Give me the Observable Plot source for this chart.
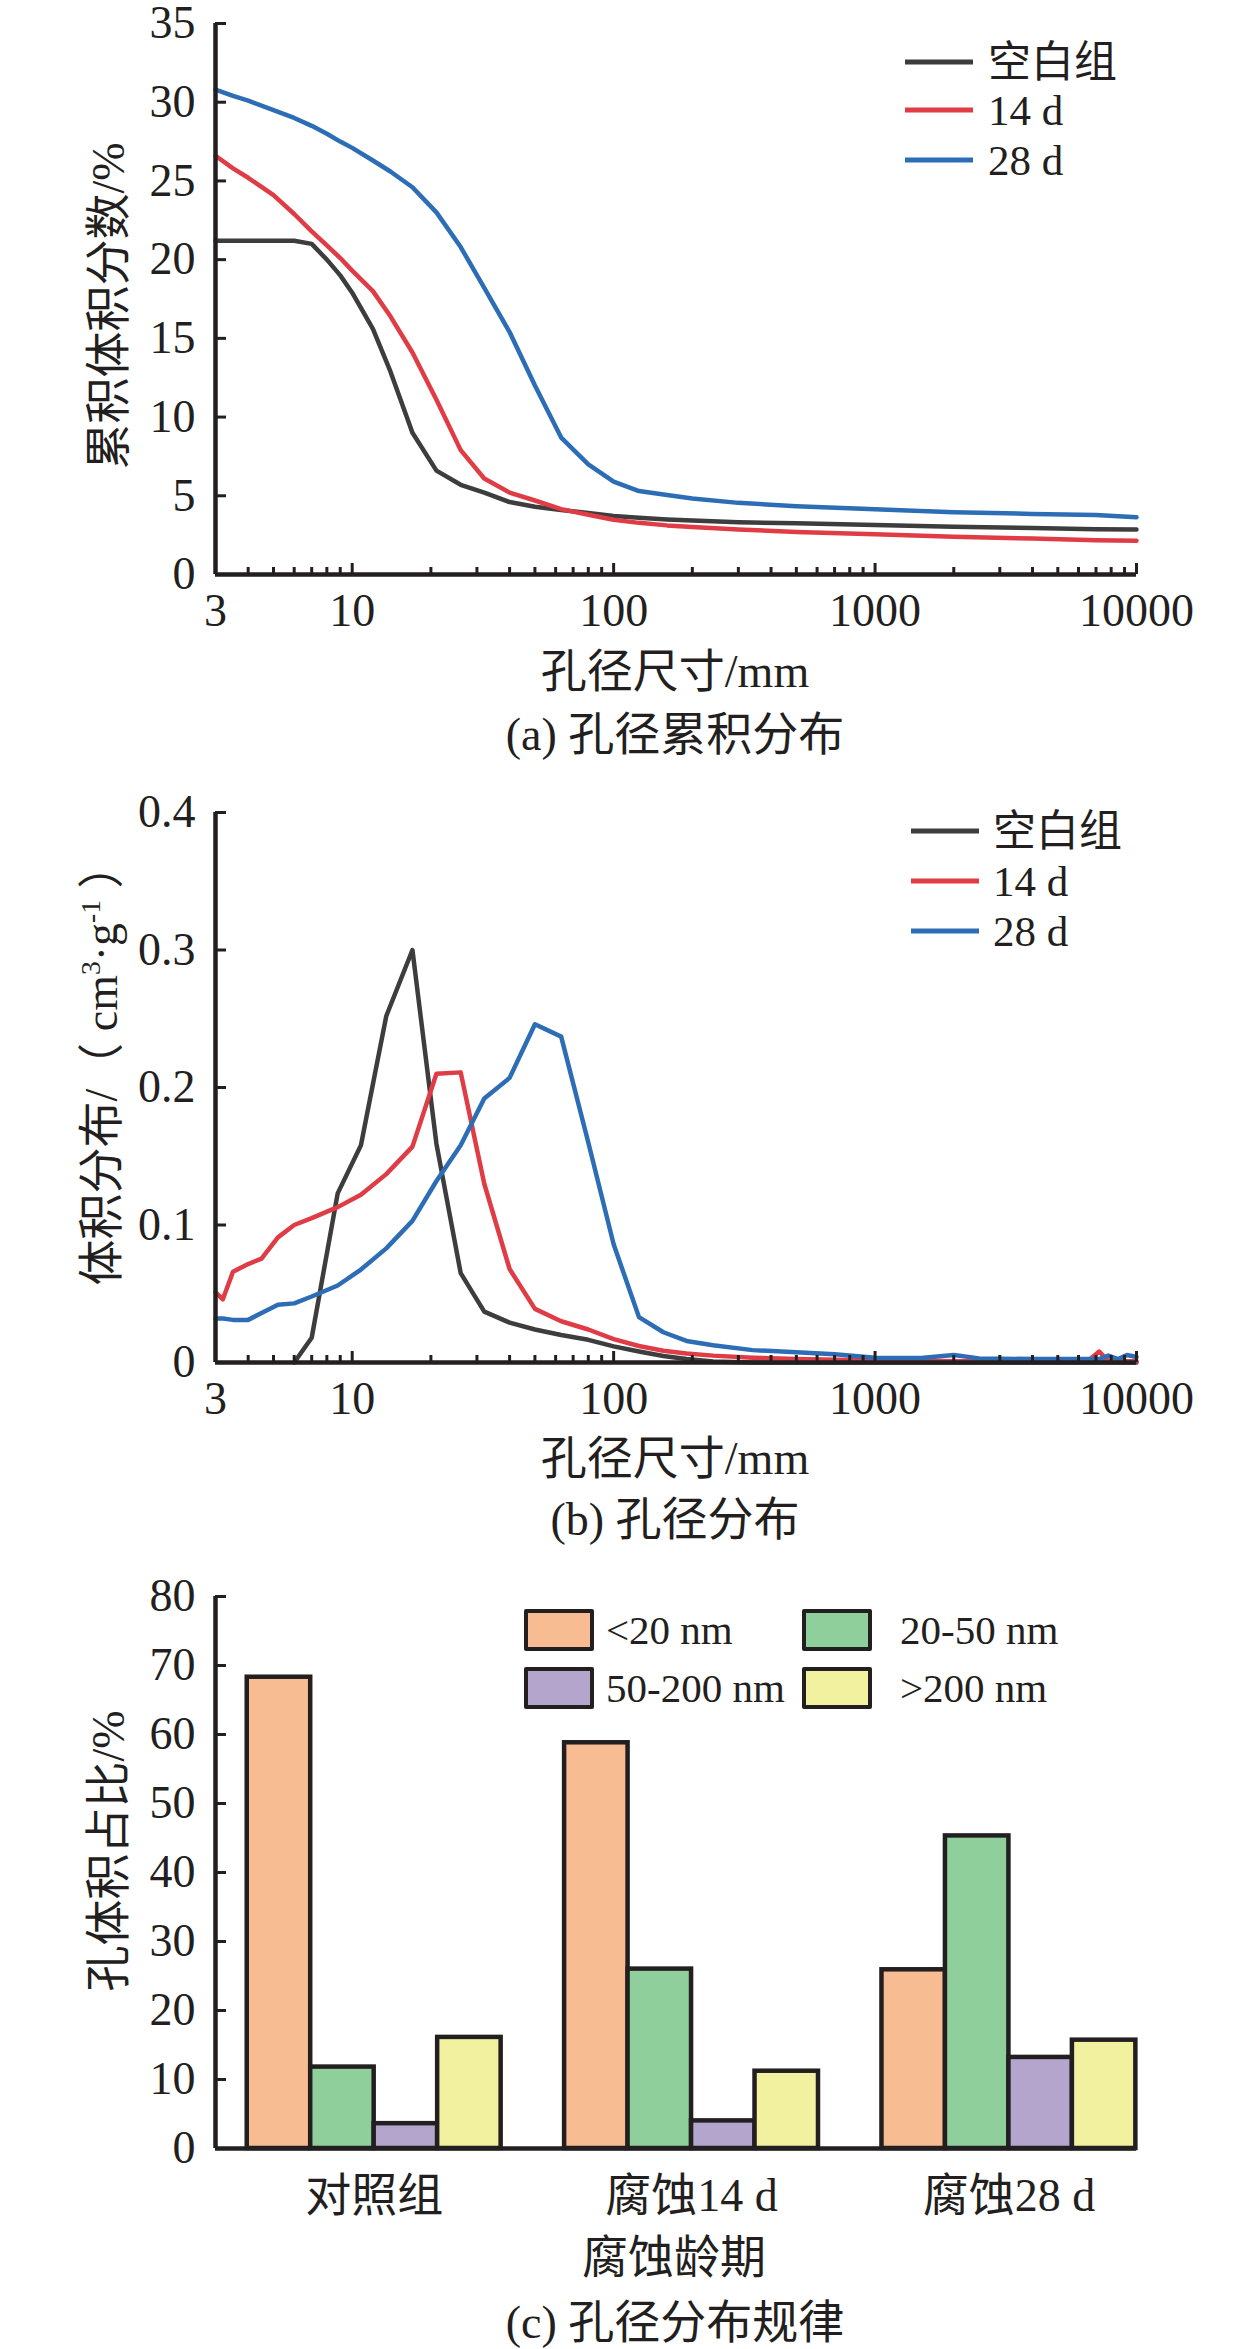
<!DOCTYPE html>
<html><head><meta charset="utf-8">
<script src="https://cdn.jsdelivr.net/npm/d3@7"></script>
<script src="https://cdn.jsdelivr.net/npm/@observablehq/plot@0.6"></script>
<style>
body{margin:0;background:#fff;}
#root{position:relative;width:1260px;height:2349px;font-family:"Liberation Serif","Noto Sans CJK SC",serif;color:#231f20;overflow:hidden;}
#root svg{position:absolute;left:0;}
.t{position:absolute;transform:translate(-50%,-50%);white-space:nowrap;font-size:46px;line-height:1;}
.ty{position:absolute;transform:translate(-50%,-50%) rotate(-90deg);white-space:nowrap;font-size:46px;line-height:1;}
.lg{position:absolute;font-size:43px;line-height:1;white-space:nowrap;transform:translateY(-50%);}
.ln{position:absolute;height:5px;transform:translateY(-50%);}
.sw{position:absolute;box-sizing:border-box;border:4.5px solid #231f20;border-radius:2px;}
</style></head><body><div id="root"></div>
<script>
const INK = "#231f20";
const seriesNames = ["空白组", "14 d", "28 d"];
const seriesColors = ["#3d3d3d", "#e03c46", "#2d6db5"];

// ---- Panel (a): cumulative pore volume (%) vs pore size ----
const sizeA  = [3, 3.5, 4, 5, 6, 7, 8, 9, 10, 12, 14, 17, 21, 26, 32, 40, 50, 63, 80, 100, 125, 160, 200, 300, 500, 1000, 2000, 4000, 7000, 10000];
const blankA = [21.2, 21.2, 21.2, 21.2, 21.2, 21.0, 20.0, 19.0, 17.9, 15.6, 12.9, 9.0, 6.6, 5.7, 5.2, 4.6, 4.3, 4.1, 3.9, 3.72, 3.6, 3.5, 3.43, 3.32, 3.25, 3.14, 3.03, 2.95, 2.87, 2.86];
const d14A   = [26.6, 25.8, 25.2, 24.1, 22.9, 21.8, 20.9, 20.1, 19.3, 18.0, 16.4, 14.1, 11.1, 7.9, 6.1, 5.2, 4.7, 4.15, 3.8, 3.48, 3.28, 3.12, 3.02, 2.86, 2.7, 2.55, 2.4, 2.28, 2.17, 2.15];
const d28A   = [30.8, 30.4, 30.1, 29.5, 29.0, 28.5, 28.0, 27.5, 27.1, 26.3, 25.6, 24.6, 23.0, 20.8, 18.2, 15.4, 12.0, 8.7, 7.0, 5.9, 5.3, 5.05, 4.83, 4.55, 4.34, 4.15, 3.95, 3.85, 3.78, 3.63];
const yTicksA = [0, 5, 10, 15, 20, 25, 30, 35];

// ---- Panel (b): pore volume distribution (cm3/g) vs pore size ----
const sizeB  = [3, 3.2, 3.5, 4, 4.5, 5.2, 6, 7, 8.8, 10.8, 13.5, 17, 21, 26, 32, 40, 50, 63, 80, 100, 125, 155, 190, 240, 340, 500, 700, 1000, 1500, 2000, 2500, 4000, 6500, 7200, 7800, 8500, 9200, 10000];
const blankB = [null, null, null, null, null, null, 0, 0.018, 0.123, 0.158, 0.252, 0.300, 0.159, 0.065, 0.037, 0.029, 0.024, 0.020, 0.0165, 0.0117, 0.008, 0.0047, 0.0026, 0.0008, 0, 0, 0, 0, 0, 0, 0, 0, 0, 0, 0, 0, 0, 0];
const d14B   = [0.051, 0.046, 0.066, 0.0716, 0.0756, 0.091, 0.100, 0.105, 0.113, 0.122, 0.137, 0.157, 0.210, 0.211, 0.130, 0.068, 0.039, 0.030, 0.024, 0.017, 0.012, 0.0086, 0.0065, 0.005, 0.0035, 0.0025, 0.002, 0.0015, 0.0012, 0.001, 0.001, 0.001, 0.001, 0.008, 0.001, 0.001, 0.001, 0.001];
const d28B   = [0.032, 0.032, 0.031, 0.031, 0.036, 0.042, 0.043, 0.048, 0.056, 0.0676, 0.083, 0.103, 0.132, 0.158, 0.192, 0.207, 0.246, 0.237, 0.160, 0.086, 0.033, 0.022, 0.0157, 0.0125, 0.009, 0.0074, 0.006, 0.0035, 0.0033, 0.0055, 0.003, 0.0025, 0.0025, 0.0025, 0.005, 0.0025, 0.0055, 0.004];
const yTicksB = [0, 0.1, 0.2, 0.3, 0.4];

const xTickLabels = [3, 10, 100, 1000, 10000];

// ---- Panel (c): pore volume share (%) by pore class ----
const groupsC  = ["对照组", "腐蚀14 d", "腐蚀28 d"];
const classesC = ["<20 nm", "20-50 nm", "50-200 nm", ">200 nm"];
const lt20     = [68.3, 58.8, 25.9];
const p20to50  = [11.8, 26.0, 45.3];
const p50to200 = [3.6, 4.0, 13.2];
const gt200    = [16.1, 11.2, 15.7];
const barColors = ["#f7bc91", "#8fcf9c", "#b3a5cc", "#f1f1a0"];
const yTicksC = [0, 10, 20, 30, 40, 50, 60, 70, 80];

const W = 1260, ML = 215, MR = 124;
const root = document.getElementById("root");
const styleBase = {fontFamily: '"Liberation Serif","Noto Sans CJK SC",serif', fontSize: "46px", color: INK, background: "transparent", overflow: "visible"};

function linePanel({sizes, series, yDomain, yTicks, top, height, mt, mb}) {
  const frameH = height - mt - mb, frameW = W - ML - MR;
  const rows = [];
  series.forEach((vals, si) => sizes.forEach((s, i) => {
    if (vals[i] != null) rows.push({s, v: vals[i], k: seriesNames[si]});
  }));
  const decades = [10, 100, 1000, 10000];
  const minor = [];
  for (const d of [1, 10, 100, 1000]) for (let m = 2; m <= 9; m++) { const v = d * m; if (v > 3) minor.push(v); }
  const svg = Plot.plot({
    width: W, height, marginLeft: ML, marginRight: MR, marginTop: mt, marginBottom: mb,
    style: styleBase,
    x: {type: "log", domain: [3, 10000]},
    y: {domain: yDomain},
    color: {domain: seriesNames, range: seriesColors},
    marks: [
      Plot.lineY(rows, {x: "s", y: "v", z: "k", stroke: "k", strokeWidth: 4.5}),
      Plot.ruleX(minor, {stroke: INK, strokeWidth: 3, insetTop: frameH - 7}),
      Plot.ruleX(decades, {stroke: INK, strokeWidth: 3, insetTop: frameH - 11}),
      Plot.ruleY(yTicks, {stroke: INK, strokeWidth: 3, insetRight: frameW - 11}),
      Plot.ruleX([3], {stroke: INK, strokeWidth: 4.5}),
      Plot.ruleY([yDomain[0]], {stroke: INK, strokeWidth: 4.5}),
      Plot.axisX(xTickLabels, {tickSize: 0, tickPadding: 19, tickFormat: d => String(d), label: null}),
      Plot.axisY(yTicks, {tickSize: 0, tickPadding: 20, tickFormat: d => String(d), label: null})
    ]
  });
  svg.style.top = top + "px";
  root.appendChild(svg);
}

linePanel({sizes: sizeA, series: [blankA, d14A, d28A], yDomain: [0, 35], yTicks: yTicksA, top: -20, height: 670, mt: 43, mb: 76});
linePanel({sizes: sizeB, series: [blankB, d14B, d28B], yDomain: [0, 0.4], yTicks: yTicksB, top: 780, height: 650, mt: 32, mb: 68});

// Panel (c)
(function () {
  const top = 1560, height = 650, mt = 36, mb = 62;
  const frameW = W - ML - MR;
  const seriesC = [lt20, p20to50, p50to200, gt200];
  const rows = [];
  groupsC.forEach((g, gi) => seriesC.forEach((vals, ci) => rows.push({g, c: classesC[ci], slot: gi * 5 + ci, v: vals[gi]})));
  const xDomain = [-0.5, 14.01];
  const svg = Plot.plot({
    width: W, height, marginLeft: ML, marginRight: MR, marginTop: mt, marginBottom: mb,
    style: styleBase,
    x: {type: "linear", domain: xDomain},
    y: {domain: [0, 80]},
    color: {domain: classesC, range: barColors},
    marks: [
      Plot.rect(rows, {x1: "slot", x2: d => d.slot + 1, y1: 0, y2: "v", fill: "c", stroke: INK, strokeWidth: 4.5}),
      Plot.ruleY(yTicksC, {stroke: INK, strokeWidth: 3, insetRight: frameW - 11}),
      Plot.ruleX([xDomain[0]], {stroke: INK, strokeWidth: 4.5}),
      Plot.ruleY([0], {stroke: INK, strokeWidth: 4.5}),
      Plot.axisX(groupsC.map((g, gi) => gi * 5 + 2), {tickSize: 0, tickPadding: 30, tickFormat: i => groupsC[(i - 2) / 5], label: null}),
      Plot.axisY(yTicksC, {tickSize: 0, tickPadding: 20, tickFormat: d => String(d), label: null})
    ]
  });
  svg.style.top = top + "px";
  root.appendChild(svg);
})();

// Titles, captions
function txt(cls, x, y, html) {
  const d = document.createElement("div");
  d.className = cls; d.style.left = x + "px"; d.style.top = y + "px"; d.innerHTML = html;
  root.appendChild(d);
}
txt("ty", 109, 306, "累积体积分数/%");
txt("t", 675, 672, "孔径尺寸/mm");
txt("t", 675, 735, "(a) 孔径累积分布");
txt("ty", 101, 1064, "体积分布/（ cm<sup style='font-size:60%'>3</sup>·g<sup style='font-size:60%'>-1</sup> ）");
txt("t", 675, 1459, "孔径尺寸/mm");
txt("t", 675, 1520, "(b) 孔径分布");
txt("ty", 109, 1851, "孔体积占比/%");
txt("t", 674, 2258, "腐蚀龄期");
txt("t", 675, 2323, "(c) 孔径分布规律");

// Line legends
function lineLegend(x0, ys, tx) {
  seriesNames.forEach((n, i) => {
    const l = document.createElement("div");
    l.className = "ln"; l.style.left = x0 + "px"; l.style.top = ys[i] + "px"; l.style.width = "68px"; l.style.background = seriesColors[i];
    root.appendChild(l);
    const t = document.createElement("div");
    t.className = "lg"; t.style.left = tx + "px"; t.style.top = ys[i] + "px"; t.textContent = n;
    root.appendChild(t);
  });
}
lineLegend(905, [62, 110, 160], 988);
lineLegend(911, [831, 881, 931], 993);

// Bar legend
const swPos = [[524, 1609, 606], [802, 1609, 900], [524, 1667, 606], [802, 1667, 900]];
classesC.forEach((c, i) => {
  const [sx, sy, tx] = swPos[i];
  const s = document.createElement("div");
  s.className = "sw"; s.style.left = sx + "px"; s.style.top = sy + "px"; s.style.width = "70px"; s.style.height = "42px"; s.style.background = barColors[i];
  root.appendChild(s);
  const t = document.createElement("div");
  t.className = "lg"; t.style.left = tx + "px"; t.style.top = (sy + 21) + "px"; t.style.fontSize = "41px"; t.textContent = c;
  root.appendChild(t);
});
</script></body></html>
